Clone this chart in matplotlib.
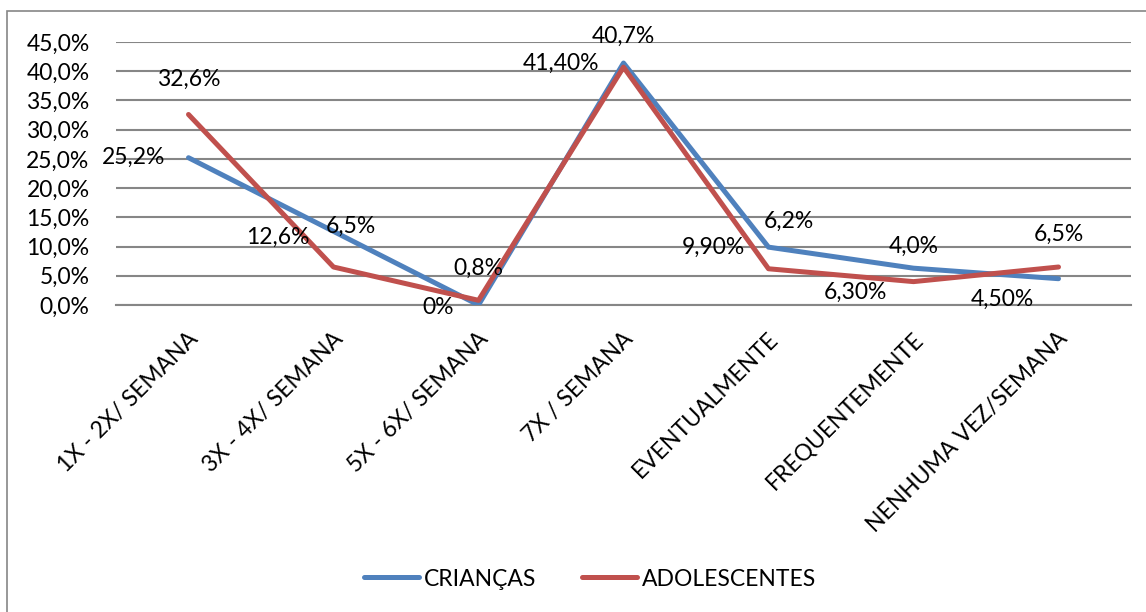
import matplotlib
matplotlib.use("Agg")
import matplotlib.pyplot as plt
import matplotlib.transforms as mtransforms
from matplotlib.patches import Rectangle

plt.rcParams['font.family'] = ['Lato', 'DejaVu Sans']

# data
categorias = ["1X - 2X/ SEMANA", "3X - 4X/ SEMANA", "5X - 6X/ SEMANA", "7X / SEMANA",
              "EVENTUALMENTE", "FREQUENTEMENTE", "NENHUMA VEZ/SEMANA"]
criancas = [25.2, 12.6, 0.0, 41.4, 9.9, 6.3, 4.5]
adolescentes = [32.6, 6.5, 0.8, 40.7, 6.2, 4.0, 6.5]
rot_criancas = ["25,2%", "12,6%", "0%", "41,40%", "9,90%", "6,30%", "4,50%"]
rot_adolescentes = ["32,6%", "6,5%", "0,8%", "40,7%", "6,2%", "4,0%", "6,5%"]
yticks = [0, 5, 10, 15, 20, 25, 30, 35, 40, 45]

# label offsets in pixels (style only)
off_criancas = [(-55, 0), (-56, -6), (-40, -2), (-63, 0), (-55, 0), (-58, -24), (-56, -21)]
off_adolescentes = [(0, 35), (17, 41), (0, 32), (0, 31), (20, 47), (0, 35), (0, 33)]

azul = "#4F81BD"
vermelho = "#C0504D"
fs = 16.5

fig = plt.figure(figsize=(11.46, 6.12), dpi=100)
fig.patches.append(Rectangle((7 / 1146, -0.1), 1.2, 1 - 11 / 612 + 0.1,
                             transform=fig.transFigure, fill=False,
                             edgecolor="#868686", linewidth=1.2))
ax = fig.add_axes([116 / 1146, 1 - 305 / 612, (1131 - 116) / 1146, (305 - 42) / 612])

x = list(range(len(categorias)))
ax.plot(x, criancas, color=azul, linewidth=3.6, label="CRIANÇAS", zorder=3,
        solid_capstyle="round")
ax.plot(x, adolescentes, color=vermelho, linewidth=3.6, label="ADOLESCENTES", zorder=4,
        solid_capstyle="round")

for xi, v, t, o in zip(x, criancas, rot_criancas, off_criancas):
    ax.annotate(t, (xi, v), xytext=o, textcoords="offset pixels",
                ha="center", va="center", fontsize=fs, zorder=5)
for xi, v, t, o in zip(x, adolescentes, rot_adolescentes, off_adolescentes):
    ax.annotate(t, (xi, v), xytext=o, textcoords="offset pixels",
                ha="center", va="center", fontsize=fs, zorder=5)

ax.set_xlim(-0.5, len(categorias) - 0.5)
ax.set_ylim(0, 45)
ax.set_yticks(yticks)
ax.set_yticklabels([f"{v:.1f}%".replace(".", ",") for v in yticks], fontsize=fs)
ax.yaxis.grid(True, color="#868686", linewidth=1.5)
ax.set_axisbelow(True)
for s in ["top", "right", "left"]:
    ax.spines[s].set_visible(False)
ax.spines["bottom"].set_color("#868686")
ax.spines["bottom"].set_linewidth(1.5)
ax.tick_params(axis="y", length=0, pad=19)
ax.tick_params(axis="x", length=0, pad=22)

ax.set_xticks(x)
ax.set_xticklabels(categorias, rotation=45, ha="right", va="center",
                   rotation_mode="anchor", fontsize=fs)
shift = mtransforms.ScaledTranslation(6 / 100, 0, fig.dpi_scale_trans)
for lbl in ax.get_xticklabels():
    lbl.set_transform(lbl.get_transform() + shift)

fig.legend(loc="center", bbox_to_anchor=(590 / 1146, 1 - 579 / 612), ncol=2,
           frameon=False, fontsize=fs, handlelength=2.4, columnspacing=2.0,
           handletextpad=0.2)

fig.savefig("out.png", dpi=100)
